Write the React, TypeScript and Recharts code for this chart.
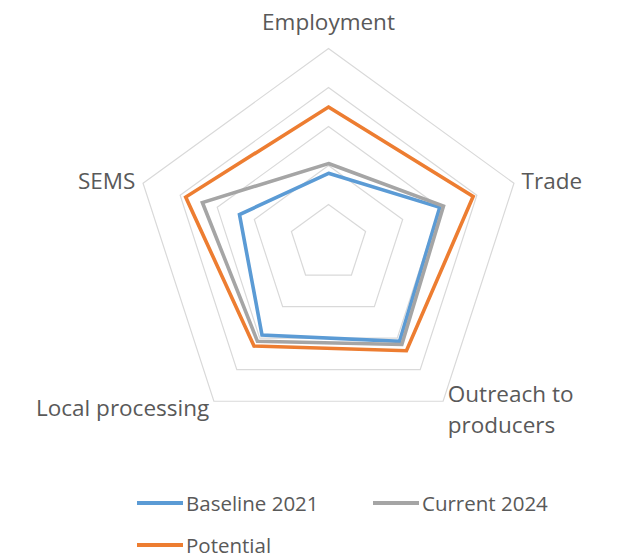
import { Legend, PolarAngleAxis, PolarGrid, PolarRadiusAxis, Radar, RadarChart } from "recharts";

const categories = ["Employment", "Trade", "Outreach to producers", "Local processing", "SEMS"];
const baseline2021 = [1.8, 3.0, 3.1, 2.9, 2.4];
const current2024 = [2.05, 3.1, 3.2, 3.1, 3.4];
const potential = [3.5, 3.9, 3.4, 3.25, 3.85];

const seriesNames = ["Baseline 2021", "Current 2024", "Potential"];
const seriesColors = ["#5B9BD5", "#A5A5A5", "#ED7D31"];

const data = categories.map((name, i) => ({
  name,
  baseline: baseline2021[i],
  current: current2024[i],
  potential: potential[i],
}));

const FONT = "'Open Sans', sans-serif";
const TEXT = "#595959";

const AngleTick = (props: any) => {
  const { x, y, payload, textAnchor } = props;
  const label: string = payload.value;
  const cut = label.lastIndexOf(" ", 12);
  const lines = label.length > 18 ? [label.slice(0, cut), label.slice(cut + 1)] : [label];
  const top = y < 100;
  const lineH = 31;
  const startDy = top ? -11 : -((lines.length - 1) * lineH) / 2 + 8 + (lines.length > 1 ? 2 : 0);
  return (
    <text x={x} y={y} textAnchor={textAnchor} fill={TEXT} fontSize={22.5} fontFamily={FONT}>
      {lines.map((l, i) => (
        <tspan key={i} x={x} dy={i === 0 ? startDy : lineH}>
          {l}
        </tspan>
      ))}
    </text>
  );
};

const LegendContent = () => (
  <div style={{ display: "flex", flexWrap: "wrap", width: 480, fontFamily: FONT, fontSize: 20.5, color: TEXT }}>
    {seriesNames.map((n, i) => (
      <div key={n} style={{ width: 236, height: 42, display: "flex", alignItems: "center" }}>
        <span style={{ display: "inline-block", width: 46, height: 4, background: seriesColors[i], marginRight: 3 }} />
        <span>{n}</span>
      </div>
    ))}
  </div>
);

export default function App() {
  return (
    <div style={{ position: "absolute", left: 0, top: 0, background: "#fff" }}>
      <RadarChart width={618} height={559} data={data} cx={328.5} cy={243.5} outerRadius={195}>
        <PolarGrid gridType="polygon" radialLines={false} stroke="#D9D9D9" strokeWidth={1.2} />
        <PolarRadiusAxis domain={[0, 5]} tickCount={6} axisLine={false} tick={false} />
        <PolarAngleAxis dataKey="name" tick={<AngleTick />} tickLine={false} axisLine={false} />
        <Radar name={seriesNames[0]} dataKey="baseline" stroke={seriesColors[0]} strokeWidth={3.6} fill="none" fillOpacity={0} isAnimationActive={false} />
        <Radar name={seriesNames[1]} dataKey="current" stroke={seriesColors[1]} strokeWidth={3.6} fill="none" fillOpacity={0} isAnimationActive={false} />
        <Radar name={seriesNames[2]} dataKey="potential" stroke={seriesColors[2]} strokeWidth={3.6} fill="none" fillOpacity={0} isAnimationActive={false} />
        <Legend content={<LegendContent />} wrapperStyle={{ position: "absolute", left: 137, top: 482, width: 480 }} />
      </RadarChart>
    </div>
  );
}
